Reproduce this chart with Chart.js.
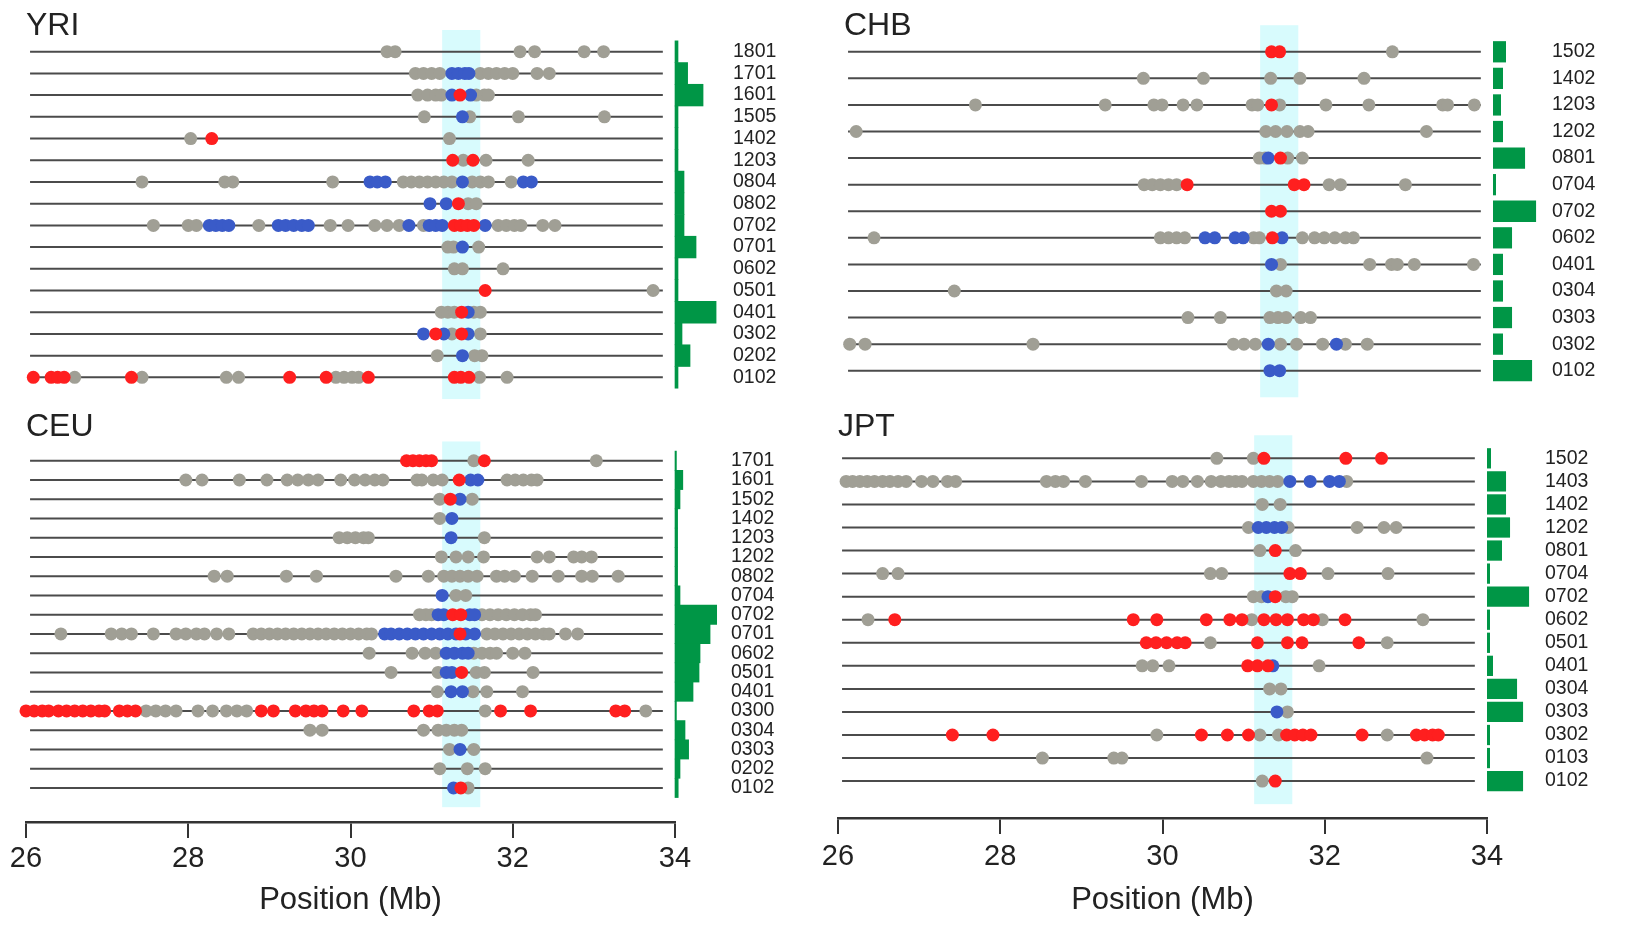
<!DOCTYPE html>
<html>
<head>
<meta charset="utf-8">
<title>Haplotypes by population</title>
<script src="https://cdn.jsdelivr.net/npm/chart.js@4.4.1/dist/chart.umd.min.js"></script>
<style>
  html, body { margin: 0; padding: 0; background: #fff; overflow: hidden; }
  #wrap { position: relative; width: 1629px; height: 925px; }
  #wrap canvas { position: absolute; }
</style>
</head>
<body>
<div id="wrap">
  <canvas id="yri" width="815" height="400" style="left:0;top:0"></canvas>
  <canvas id="chb" width="814" height="400" style="left:815px;top:0"></canvas>
  <canvas id="ceu" width="815" height="525" style="left:0;top:400px"></canvas>
  <canvas id="jpt" width="814" height="525" style="left:815px;top:400px"></canvas>
</div>
<script>
// marker positions in Mb, one list per haplotype row (top to bottom)
// freq = haplotype frequency (%), drawn as the green bars on the right

// ---- YRI
const yriRows = ['1801','1701','1601','1505','1402','1203','0804','0802','0702','0701','0602','0501','0401','0302','0202','0102'];
const yriFreq = [1.5, 6.3, 14, 1.5, 1.5, 1.5, 4.5, 4.5, 4.5, 10.5, 1.5, 1.5, 20.5, 3.5, 7.5, 1.5];
const yriGrey = [
  [30.45, 30.55, 32.09, 32.27, 32.88, 33.12],
  [30.8, 30.9, 31.0, 31.1, 31.6, 31.7, 31.8, 31.9, 32.0, 32.3, 32.45],
  [30.83, 30.95, 31.05, 31.12, 31.55, 31.65, 31.7],
  [30.91, 31.47, 32.07, 33.13],
  [28.03, 31.22],
  [31.39, 31.67, 32.19],
  [27.43, 28.45, 28.55, 29.78, 30.65, 30.75, 30.85, 30.95, 31.05, 31.15, 31.25, 31.5, 31.6, 31.7, 31.98],
  [31.45, 31.55],
  [27.57, 28.0, 28.1, 28.87, 29.75, 29.97, 30.3, 30.45, 30.6, 30.9, 31.82, 31.92, 32.02, 32.1, 32.37, 32.52],
  [31.2, 31.27, 31.58],
  [31.28, 31.38, 31.88],
  [33.73],
  [31.12, 31.2, 31.28, 31.52, 31.6],
  [31.25, 31.6],
  [31.07, 31.53, 31.62],
  [26.6, 27.43, 28.47, 28.62, 29.82, 29.92, 30.02, 30.1, 31.59, 31.93]
];
const yriRed = [
  [], [], [31.35], [], [28.29], [31.26, 31.51], [], [31.33],
  [31.28, 31.36, 31.44, 31.52], [], [], [31.66], [31.37], [31.05, 31.37], [],
  [26.09, 26.31, 26.39, 26.47, 27.3, 29.25, 29.7, 30.22, 31.28, 31.36, 31.46]
];
const yriBlue = [
  [], [31.25, 31.33, 31.41, 31.46], [31.25, 31.48], [31.38], [], [],
  [30.24, 30.33, 30.43, 31.38, 32.13, 32.23], [30.98, 31.18],
  [28.26, 28.34, 28.42, 28.5, 29.11, 29.2, 29.3, 29.4, 29.48, 30.72, 30.97, 31.05, 31.13, 31.66],
  [31.38], [], [], [31.45], [30.9, 31.15, 31.45], [31.38], []
];

// ---- CHB
const chbRows = ['1502','1402','1203','1202','0801','0704','0702','0602','0401','0304','0303','0302','0102'];
const chbFreq = [6.5, 5, 4, 5, 16, 1.5, 21.5, 9.5, 5, 5, 9.5, 5, 19.5];
const chbGrey = [
  [32.76],
  [29.69, 30.43, 31.26, 31.62, 32.41],
  [27.62, 29.22, 29.82, 29.92, 30.18, 30.35, 31.03, 31.1, 31.37, 31.94, 32.47, 33.38, 33.44, 33.77],
  [26.15, 31.2, 31.32, 31.46, 31.62, 31.72, 33.18],
  [31.12, 31.19, 31.47, 31.65],
  [29.7, 29.8, 29.9, 30.0, 30.1, 31.98, 32.12, 32.92],
  [],
  [26.37, 29.9, 30.0, 30.1, 30.2, 31.05, 31.12, 31.65, 31.8, 31.92, 32.05, 32.18, 32.28],
  [31.38, 32.48, 32.75, 32.82, 33.03, 33.76],
  [27.36, 31.33, 31.45],
  [30.24, 30.64, 31.25, 31.35, 31.45, 31.63, 31.75],
  [26.07, 26.26, 28.33, 30.8, 30.93, 31.07, 31.38, 31.58, 31.9, 32.18, 32.45],
  []
];
const chbRed = [
  [31.27, 31.37], [], [31.27], [], [31.38], [30.23, 31.55, 31.67], [31.27, 31.38], [31.28],
  [], [], [], [], []
];
const chbBlue = [
  [], [], [], [], [31.23], [], [], [30.45, 30.57, 30.82, 30.92, 31.4], [31.27],
  [], [], [31.23, 32.07], [31.25, 31.37]
];

// ---- CEU
const ceuRows = ['1701','1601','1502','1402','1203','1202','0802','0704','0702','0701','0602','0501','0401','0300','0304','0303','0202','0102'];
const ceuFreq = [0.7, 3.9, 2.5, 1.3, 1.3, 1.3, 1.3, 2.5, 20.8, 17.5, 12.5, 12, 9, 0.7, 5, 6.8, 2.5, 1.6];
const ceuGrey = [
  [31.52, 33.03],
  [27.97, 28.17, 28.63, 28.97, 29.22, 29.35, 29.48, 29.6, 29.88, 30.05, 30.18, 30.3, 30.4, 30.82, 30.88, 31.02, 31.13, 31.93, 32.03, 32.13, 32.23, 32.3],
  [31.1, 31.5],
  [31.1],
  [29.86, 29.96, 30.06, 30.16, 30.22, 31.65],
  [31.12, 31.3, 31.45, 31.64, 32.3, 32.45, 32.75, 32.85, 32.97],
  [28.32, 28.48, 29.21, 29.58, 30.56, 30.96, 31.15, 31.25, 31.35, 31.45, 31.56, 31.8, 31.9, 32.02, 32.24, 32.56, 32.85, 32.98, 33.3],
  [31.3, 31.42],
  [30.85, 30.93, 31.0, 31.62, 31.72, 31.82, 31.92, 32.02, 32.12, 32.22, 32.28],
  [26.43, 27.05, 27.18, 27.3, 27.57, 27.85, 27.97, 28.1, 28.2, 28.35, 28.5, 28.8, 28.9, 29.0, 29.1, 29.2, 29.3, 29.4,
   29.5, 29.6, 29.7, 29.8, 29.9, 30.0, 30.1, 30.2, 30.26, 31.68, 31.78, 31.88, 31.98, 32.08, 32.18, 32.28, 32.38, 32.45, 32.65, 32.8],
  [30.23, 30.76, 30.92, 31.05, 31.52, 31.62, 31.72, 31.8, 32.0, 32.15],
  [30.5, 31.08, 31.55, 31.65, 32.25],
  [31.07, 31.51, 31.68, 32.12],
  [27.48, 27.6, 27.72, 27.85, 28.12, 28.3, 28.47, 28.6, 28.72, 31.66, 33.64],
  [29.5, 29.65, 30.9, 31.08, 31.18, 31.28, 31.37],
  [31.22, 31.52],
  [31.1, 31.44, 31.66],
  [31.45]
];
const ceuRed = [
  [30.69, 30.77, 30.85, 30.93, 31.0, 31.65], [31.34], [31.23], [], [], [], [], [],
  [31.26, 31.36], [31.35], [], [31.37], [],
  [26.0, 26.1, 26.2, 26.28, 26.4, 26.5, 26.6, 26.7, 26.8, 26.9, 26.97, 27.15, 27.25, 27.35, 28.9, 29.05,
   29.32, 29.45, 29.55, 29.65, 29.91, 30.14, 30.78, 30.97, 31.07, 31.85, 32.22, 33.27, 33.38],
  [], [], [], [31.36]
];
const ceuBlue = [
  [], [31.48, 31.57], [31.35], [31.25], [31.24], [], [], [31.13],
  [31.08, 31.15, 31.47, 31.53],
  [30.42, 30.5, 30.6, 30.7, 30.8, 30.9, 31.0, 31.1, 31.2, 31.3, 31.42, 31.53],
  [31.18, 31.28, 31.38, 31.45], [31.18, 31.25], [31.24, 31.38], [], [], [31.35], [], [31.27]
];

// ---- JPT
const jptRows = ['1502','1403','1402','1202','0801','0704','0702','0602','0501','0401','0304','0303','0302','0103','0102'];
const jptFreq = [2, 9.5, 9.5, 11.5, 7.5, 1.5, 21, 1.5, 1.5, 3, 15, 18, 1.5, 1.5, 18];
const jptGrey = [
  [30.67, 31.12],
  [26.1, 26.18, 26.27, 26.36, 26.45, 26.55, 26.64, 26.74, 26.84, 27.03, 27.17, 27.35, 27.45, 28.57, 28.68, 28.78,
   29.05, 29.74, 30.12, 30.25, 30.43, 30.6, 30.72, 30.82, 30.9, 30.98, 31.12, 31.22, 31.32, 31.42, 32.27],
  [31.23, 31.45],
  [31.06, 31.55, 32.4, 32.73, 32.88],
  [31.2, 31.64],
  [26.55, 26.74, 30.59, 30.73, 32.04, 32.78],
  [31.12, 31.22, 31.52, 31.6],
  [26.37, 31.1, 31.97, 33.21],
  [30.59, 32.77],
  [29.75, 29.88, 30.08, 31.93],
  [31.32, 31.46],
  [31.54],
  [29.93, 31.2, 31.43, 32.77],
  [28.52, 29.4, 29.5, 33.26],
  [31.23]
];
const jptRed = [
  [31.25, 32.26, 32.7], [], [], [], [31.39], [31.57, 31.7], [31.39],
  [26.7, 29.64, 29.93, 30.54, 30.83, 30.98, 31.25, 31.4, 31.54, 31.74, 31.86, 32.25],
  [29.8, 29.92, 30.05, 30.18, 30.28, 31.17, 31.54, 31.72, 32.42],
  [31.05, 31.17, 31.3], [], [],
  [27.41, 27.91, 30.48, 30.8, 31.06, 31.53, 31.63, 31.73, 31.83, 32.46, 33.13, 33.23, 33.33, 33.4],
  [], [31.39]
];
const jptBlue = [
  [], [31.57, 31.82, 32.06, 32.18], [], [31.18, 31.28, 31.38, 31.47], [], [], [31.3],
  [], [], [31.36], [], [31.41], [], [], []
];

const lineStart = 26.05, lineEnd = 33.85;   // extent of every haplotype line (Mb)
const bandFrom = 31.13, bandTo = 31.6;       // highlighted region (Mb)
const freqScale = 0.0247;                    // bar length in Mb per 1 % frequency

const GREY = '#a09f95', RED = '#ff1f1f', BLUE = '#3a5bc8', GREEN = '#009646';

Chart.defaults.font.family = "'Liberation Sans', Arial, sans-serif";
Chart.defaults.color = '#222';

// light cyan band behind the markers
const bandPlugin = {
  id: 'band',
  beforeDatasetsDraw(chart, args, opts) {
    const { ctx, scales: { x, y } } = chart;
    const x0 = x.getPixelForValue(bandFrom), x1 = x.getPixelForValue(bandTo);
    const y0 = y.getPixelForValue(-1), y1 = y.getPixelForValue(opts.rows);
    ctx.save();
    ctx.fillStyle = '#d8fbfd';
    ctx.fillRect(x0, y0, x1 - x0, y1 - y0);
    ctx.restore();
  }
};

function makePanel(id, title, rows, freq, grey, red, blue, g) {
  const pts = list => rows.flatMap((_, i) => list[i].map(x => ({ x, y: i })));
  const dots = (list, color, order) => ({
    type: 'scatter', data: pts(list), pointRadius: 6.5, pointHoverRadius: 6.5,
    pointBackgroundColor: color, pointBorderWidth: 0, order, clip: false
  });

  const datasets = rows.map((_, i) => ({
    type: 'line', data: [{ x: lineStart, y: i }, { x: lineEnd, y: i }],
    borderColor: '#4b4b4b', borderWidth: 2, pointRadius: 0, order: 5
  }));
  datasets.push(dots(grey, GREY, 4), dots(blue, BLUE, 3), dots(red, RED, 2));
  datasets.push({
    type: 'bar', indexAxis: 'y',
    data: freq.map((f, i) => ({ x: [34, 34 + f * freqScale], y: i })),
    backgroundColor: GREEN, borderWidth: 0, barPercentage: g.barPct, categoryPercentage: 1,
    clip: false, order: 1
  });

  const xScale = g.axis ? {
    type: 'linear', min: 26, max: 34, offset: false,
    ticks: { stepSize: 2, padding: g.tickPad, font: { size: 29 } },
    grid: { display: true, drawOnChartArea: false, drawTicks: true, tickLength: 16, color: '#333', lineWidth: 2 },
    border: { display: true, color: '#333', width: 2.5 },
    title: { display: true, text: 'Position (Mb)', font: { size: 31 }, padding: { top: 0, bottom: 6 } },
    afterFit: s => { s.height = g.axisH; }
  } : { type: 'linear', min: 26, max: 34, offset: false, display: false };

  new Chart(document.getElementById(id), {
    type: 'scatter',
    data: { datasets },
    options: {
      responsive: false, animation: false, events: [], devicePixelRatio: 1,
      layout: { padding: { left: g.padLeft, right: 0, top: 0, bottom: g.padBottom || 0 } },
      plugins: {
        legend: { display: false },
        tooltip: { enabled: false },
        title: { display: true, text: title, align: 'start', font: { size: 32, weight: 'normal', lineHeight: 0.75 },
                 padding: { top: g.titleTop, bottom: g.titleBottom } },
        band: { rows: rows.length }
      },
      scales: {
        x: xScale,
        y: {
          type: 'linear', min: -0.5, max: g.yMax, reverse: true, position: 'right', offset: false,
          afterBuildTicks: s => { s.ticks = rows.map((_, i) => ({ value: i })); },
          afterFit: s => { s.width = g.axisW; s.paddingTop = 0; s.paddingBottom = 0; },
          ticks: { padding: g.labelPad, autoSkip: false, font: { size: 19.5 }, callback: v => rows[v] ?? '' },
          grid: { display: false, drawTicks: false, offset: false },
          border: { display: false }
        }
      }
    },
    plugins: [bandPlugin]
  });
}

makePanel('yri', 'YRI', yriRows, yriFreq, yriGrey, yriRed, yriBlue,
  { padLeft: 26, axisW: 140, yMax: 15.5, titleTop: 14.5, titleBottom: 2.35, padBottom: 11.8, barPct: 1, labelPad: 58 });
makePanel('chb', 'CHB', chbRows, chbFreq, chbGrey, chbRed, chbBlue,
  { padLeft: 29, axisW: 136, yMax: 12.5, titleTop: 14.5, titleBottom: 0, padBottom: 16, barPct: 0.8, labelPad: 59 });
makePanel('ceu', 'CEU', ceuRows, ceuFreq, ceuGrey, ceuRed, ceuBlue,
  { padLeft: 26, axisW: 140, yMax: 18.77, titleTop: 15, titleBottom: 12.1, axis: true, axisH: 103, tickPad: 4, barPct: 1, labelPad: 56 });
makePanel('jpt', 'JPT', jptRows, jptFreq, jptGrey, jptRed, jptBlue,
  { padLeft: 23, axisW: 142, yMax: 15.6, titleTop: 15, titleBottom: 7.8, axis: true, axisH: 107, tickPad: 6, barPct: 0.88, labelPad: 58 });
</script>
</body>
</html>
